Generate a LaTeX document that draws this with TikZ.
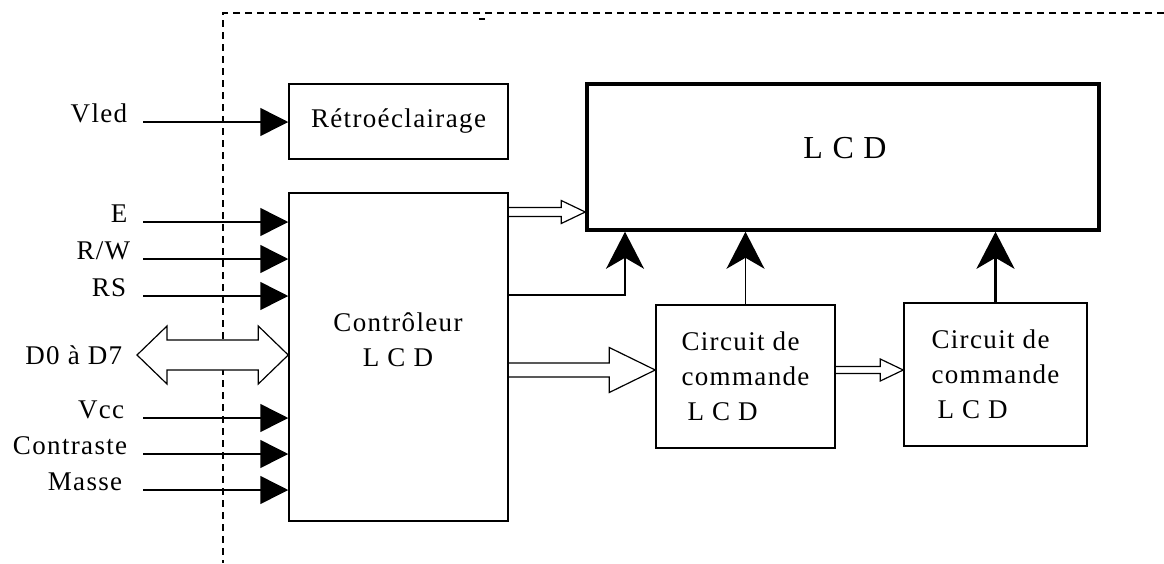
\documentclass[tikz,border=0pt]{standalone}
\usepackage{fontspec}
\setmainfont{Liberation Serif}[LetterSpace=5]
\usetikzlibrary{arrows.meta, calc}

% fat hollow arrow: from, tip, shaft half, head half, head length
\newcommand{\fatarrow}[5]{%
  \draw[fat] let \p1=(#1), \p2=(#2) in
    (\x1,\y2+#3) -- (\x2-#5,\y2+#3) -- (\x2-#5,\y2+#4) -- (\p2)
    -- (\x2-#5,\y2-#4) -- (\x2-#5,\y2-#3) -- (\x1,\y2-#3);}

\begin{document}
\begin{tikzpicture}[x=1pt, y=-1pt, line width=1.5pt,
    font=\fontsize{27}{35}\selectfont,
    box/.style={draw, line width=1.5pt, inner sep=0pt},
    sig/.style={anchor=base east, inner sep=0pt},
    inarrow/.style={-{Triangle[length=28pt, width=28pt]}},
    uparrow/.style={-{Stealth[length=37pt, width=38pt, inset=11pt]}},
    fat/.style={line width=1.2pt}]

\path[use as bounding box] (0,0) rectangle (1164,563);

% limite du module
\draw[dash pattern=on 7pt off 5pt] (1164,13) -| (223,563);
\draw (479,19) -- (485,19);

% blocs
\node[box, minimum width=219pt, minimum height=75pt] (retro) at (398.5,121.5) {Rétroéclairage};
\node[box, minimum width=219pt, minimum height=328pt] (ctrl) at (398.5,357) {};
\node[align=center] (ctrltxt) at (398,340) {Contrôleur\\L C D};
\node[box, line width=3.5pt, minimum width=512pt, minimum height=146pt] (lcd) at (843,157) {};
\node[font=\fontsize{32}{36}\selectfont] (lcdtxt) at (845,148) {L C D};
\node[box, minimum width=179pt, minimum height=143pt, align=left] (circ1) at (745.5,376.5)
    {Circuit de\\commande\\\hspace{6pt}L C D};
\node[box, minimum width=183pt, minimum height=143pt, align=left] (circ2) at (995.5,374.5)
    {Circuit de\\commande\\\hspace{6pt}L C D};

% signaux
\coordinate (bus) at (143,0);
\node[sig] (lVled) at (128,122) {Vled};
\node[sig] (lE) at (128,222) {E};
\node[sig] (lRW) at (131,259) {R/W};
\node[sig] (lRS) at (127,296) {RS};
\node[anchor=east, inner sep=0pt] (lD) at (123,355) {D0 à D7};
\node[sig] (lVcc) at (125,418) {Vcc};
\node[sig] (lCon) at (128,454) {Contraste};
\node[sig] (lMas) at (123,490) {Masse};

\draw[inarrow] (bus |- lVled.base) -- (lVled.base -| retro.west);
\foreach \s in {lE,lRW,lRS,lVcc,lCon,lMas}
    \draw[inarrow] (bus |- \s.base) -- (\s.base -| ctrl.west);

% bus de donnees
\draw[fat, fill=white] let \p1=([xshift=14pt]lD.east), \p2=(lD.east -| ctrl.west) in
    (\p1) -- (\x1+30pt,\y1+29pt) -- (\x1+30pt,\y1+15pt) -- (\x2-30pt,\y1+15pt)
    -- (\x2-30pt,\y1+29pt) -- (\p2) -- (\x2-30pt,\y1-29pt) -- (\x2-30pt,\y1-15pt)
    -- (\x1+30pt,\y1-15pt) -- (\x1+30pt,\y1-29pt) -- cycle;

% liaisons
\coordinate (tipLcd) at ([yshift=-55pt]lcd.west);
\fatarrow{ctrl.east}{tipLcd}{4.5pt}{11.5pt}{24pt}
\fatarrow{ctrl.east}{[yshift=6.5pt]circ1.west}{7pt}{22.5pt}{46pt}
\fatarrow{circ1.east}{[yshift=4.5pt]circ2.west}{3.5pt}{11pt}{23pt}

\draw[uparrow] ([yshift=62pt]ctrl.east) -| ([xshift=-218pt]lcd.south);
\draw[uparrow] (circ1.north) -- (circ1.north |- lcd.south);
\draw[uparrow, line width=3.5pt] (circ2.north) -- (circ2.north |- lcd.south);

\end{tikzpicture}
\end{document}
